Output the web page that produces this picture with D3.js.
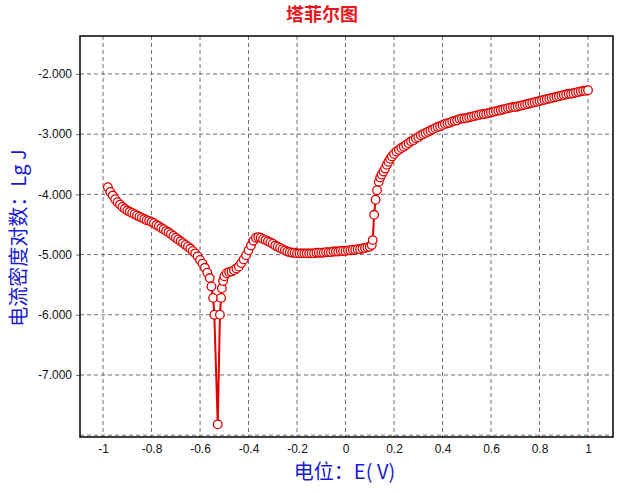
<!DOCTYPE html>
<html>
<head>
<meta charset="utf-8">
<script src="https://cdn.jsdelivr.net/npm/d3@7"></script>
<style>
  body { margin: 0; background: #fff; }
  svg { display: block; }
</style>
</head>
<body>
<div id="chart"></div>
<script>
// Tafel data: potential (V) and log current density
var potential = [
  -0.98, -0.97, -0.96, -0.95, -0.94, -0.93, -0.92, -0.91, -0.90, -0.89,
  -0.88, -0.87, -0.86, -0.85, -0.84, -0.83, -0.82, -0.81, -0.80, -0.79,
  -0.78, -0.77, -0.76, -0.75, -0.74, -0.73, -0.72, -0.71, -0.70, -0.69,
  -0.68, -0.67, -0.66, -0.65, -0.64, -0.63, -0.62, -0.61, -0.60, -0.59,
  -0.58, -0.57, -0.56, -0.553, -0.546, -0.541, -0.527, -0.518, -0.513, -0.510,
  -0.505, -0.50, -0.49, -0.48, -0.47, -0.46, -0.45, -0.44, -0.43, -0.42,
  -0.41, -0.40, -0.39, -0.38, -0.37, -0.36, -0.35, -0.34, -0.33, -0.32,
  -0.31, -0.30, -0.29, -0.28, -0.27, -0.26, -0.25, -0.24, -0.23, -0.22,
  -0.21, -0.20, -0.19, -0.18, -0.17, -0.16, -0.15, -0.14, -0.13, -0.12,
  -0.11, -0.10, -0.09, -0.08, -0.07, -0.06, -0.05, -0.04, -0.03, -0.02,
  -0.01, 0.00, 0.01, 0.02, 0.03, 0.04, 0.05, 0.06, 0.07, 0.08,
  0.09, 0.10, 0.108, 0.112, 0.118, 0.124, 0.130, 0.137, 0.143, 0.149,
  0.156, 0.163, 0.170, 0.177, 0.184, 0.191, 0.20, 0.21, 0.22, 0.23,
  0.24, 0.25, 0.26, 0.27, 0.28, 0.29, 0.30, 0.31, 0.32, 0.33,
  0.34, 0.35, 0.36, 0.37, 0.38, 0.39, 0.40, 0.41, 0.42, 0.43,
  0.44, 0.45, 0.46, 0.47, 0.48, 0.49, 0.50, 0.51, 0.52, 0.53,
  0.54, 0.55, 0.56, 0.57, 0.58, 0.59, 0.60, 0.61, 0.62, 0.63,
  0.64, 0.65, 0.66, 0.67, 0.68, 0.69, 0.70, 0.71, 0.72, 0.73,
  0.74, 0.75, 0.76, 0.77, 0.78, 0.79, 0.80, 0.81, 0.82, 0.83,
  0.84, 0.85, 0.86, 0.87, 0.88, 0.89, 0.90, 0.91, 0.92, 0.93,
  0.94, 0.95, 0.96, 0.97, 0.98, 0.99, 1.00
];
var lgJ = [
  -3.88, -3.96, -4.02, -4.08, -4.13, -4.17, -4.21, -4.24, -4.27, -4.29,
  -4.31, -4.33, -4.35, -4.37, -4.39, -4.41, -4.43, -4.44, -4.46, -4.48,
  -4.51, -4.53, -4.56, -4.58, -4.61, -4.63, -4.66, -4.69, -4.72, -4.75,
  -4.78, -4.81, -4.84, -4.87, -4.90, -4.94, -4.98, -5.03, -5.09, -5.15,
  -5.22, -5.30, -5.39, -5.53, -5.72, -6.00, -7.82, -6.00, -5.72, -5.56,
  -5.44, -5.36, -5.31, -5.29, -5.28, -5.26, -5.23, -5.20, -5.14, -5.08,
  -5.01, -4.93, -4.85, -4.77, -4.72, -4.71, -4.72, -4.74, -4.76, -4.78,
  -4.80, -4.82, -4.85, -4.87, -4.89, -4.91, -4.93, -4.95, -4.96, -4.97,
  -4.97, -4.98, -4.98, -4.98, -4.98, -4.98, -4.98, -4.98, -4.98, -4.97,
  -4.97, -4.97, -4.97, -4.96, -4.96, -4.96, -4.95, -4.95, -4.95, -4.94,
  -4.94, -4.94, -4.93, -4.93, -4.92, -4.92, -4.91, -4.91, -4.90, -4.89,
  -4.88, -4.87, -4.84, -4.76, -4.34, -4.09, -3.93, -3.79, -3.72, -3.67,
  -3.62, -3.57, -3.51, -3.46, -3.41, -3.37, -3.33, -3.29, -3.26, -3.23,
  -3.21, -3.18, -3.15, -3.12, -3.10, -3.07, -3.05, -3.02, -3.00, -2.98,
  -2.96, -2.94, -2.92, -2.90, -2.88, -2.87, -2.85, -2.83, -2.82, -2.81,
  -2.79, -2.78, -2.77, -2.75, -2.74, -2.74, -2.73, -2.72, -2.71, -2.70,
  -2.69, -2.68, -2.67, -2.67, -2.66, -2.65, -2.64, -2.63, -2.62, -2.61,
  -2.60, -2.59, -2.58, -2.57, -2.56, -2.55, -2.55, -2.54, -2.53, -2.52,
  -2.51, -2.50, -2.49, -2.48, -2.47, -2.46, -2.45, -2.44, -2.43, -2.42,
  -2.41, -2.40, -2.39, -2.38, -2.37, -2.36, -2.35, -2.34, -2.33, -2.33,
  -2.32, -2.31, -2.30, -2.29, -2.28, -2.28, -2.27
];

var xTicks = [-1, -0.8, -0.6, -0.4, -0.2, 0, 0.2, 0.4, 0.6, 0.8, 1];
var yTicks = [-2, -3, -4, -5, -6, -7];
var yGrid = [-2, -3, -4, -5, -6, -7, -8];

// Define SVG area dimensions
var svgWidth = 644;
var svgHeight = 493;
var margin = { top: 36, right: 31, bottom: 56, left: 80 };
var width = svgWidth - margin.left - margin.right;
var height = svgHeight - margin.top - margin.bottom;

var svg = d3.select("#chart")
  .append("svg")
  .attr("width", svgWidth)
  .attr("height", svgHeight);

var chartGroup = svg.append("g")
  .attr("transform", `translate(${margin.left}, ${margin.top})`);

var xScale = d3.scaleLinear().domain([-1.095, 1.103]).range([0, width]);
var yScale = d3.scaleLinear().domain([-8.03, -1.37]).range([height, 0]);

// dashed grid
chartGroup.selectAll(".vgrid")
  .data(xTicks)
  .enter()
  .append("line")
  .attr("x1", d => xScale(d)).attr("x2", d => xScale(d))
  .attr("y1", 0).attr("y2", height)
  .attr("stroke", "#707070")
  .attr("stroke-dasharray", "4,3");

chartGroup.selectAll(".hgrid")
  .data(yGrid)
  .enter()
  .append("line")
  .attr("x1", 0).attr("x2", width)
  .attr("y1", d => yScale(d)).attr("y2", d => yScale(d))
  .attr("stroke", "#707070")
  .attr("stroke-dasharray", "4,3");

// axes
var leftAxis = d3.axisLeft(yScale)
  .tickValues(yTicks)
  .tickSize(4)
  .tickPadding(4)
  .tickFormat(d => d.toFixed(3));

var bottomAxis = d3.axisBottom(xScale)
  .tickValues(xTicks)
  .tickSize(0)
  .tickPadding(7)
  .tickFormat(d => String(d));

var yAxisG = chartGroup.append("g").call(leftAxis);
var xAxisG = chartGroup.append("g")
  .attr("transform", `translate(0, ${height})`)
  .call(bottomAxis);

[yAxisG, xAxisG].forEach(function(g) {
  g.select(".domain").remove();
  g.selectAll("text")
    .attr("font-family", "Liberation Sans, Arial, sans-serif")
    .attr("font-size", 12)
    .attr("fill", "#111");
  g.selectAll("line").attr("stroke", "#707070");
});

// plot border
chartGroup.append("rect")
  .attr("x", 0).attr("y", 0)
  .attr("width", width).attr("height", height)
  .attr("fill", "none")
  .attr("stroke", "#000")
  .attr("stroke-width", 1.5);

var points = potential.map((e, i) => ({ e: e, j: lgJ[i] }));

var line = d3.line()
  .x(d => xScale(d.e))
  .y(d => yScale(d.j));

chartGroup.append("path")
  .datum(points)
  .attr("d", line)
  .attr("fill", "none")
  .attr("stroke", "#e00000")
  .attr("stroke-width", 2);

chartGroup.selectAll("circle")
  .data(points)
  .enter()
  .append("circle")
  .attr("cx", d => xScale(d.e))
  .attr("cy", d => yScale(d.j))
  .attr("r", 4.3)
  .attr("fill", "#fff")
  .attr("stroke", "#e00000")
  .attr("stroke-width", 1.3);

// titles
svg.append("text")
  .attr("x", 322)
  .attr("y", 21)
  .attr("text-anchor", "middle")
  .attr("font-family", "Noto Sans CJK SC")
  .attr("font-weight", "bold")
  .attr("font-size", 18)
  .attr("fill", "#e8161c")
  .text("塔菲尔图");

svg.append("text")
  .attr("x", margin.left + width / 2 - 2)
  .attr("y", 479)
  .attr("text-anchor", "middle")
  .attr("font-family", "Noto Sans CJK SC, Liberation Sans")
  .attr("font-size", 20)
  .attr("fill", "#1a1ad0")
  .text("电位：E( V)");

svg.append("text")
  .attr("transform", "rotate(-90)")
  .attr("x", -238)
  .attr("y", 26)
  .attr("text-anchor", "middle")
  .attr("font-family", "Noto Sans CJK SC, Liberation Sans")
  .attr("font-size", 20)
  .attr("fill", "#1a1ad0")
  .text("电流密度对数：Lg J");
</script>
</body>
</html>
